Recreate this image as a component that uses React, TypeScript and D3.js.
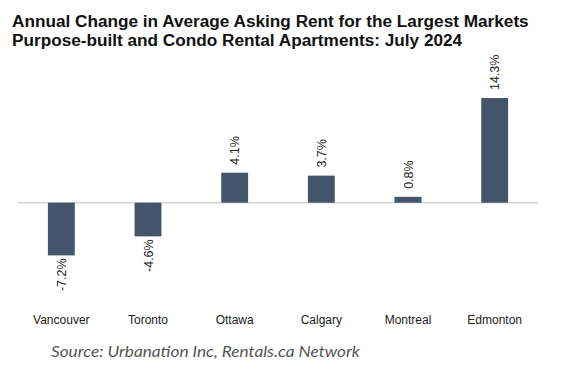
import React from "react";
import * as d3 from "d3";

const cities = ["Vancouver", "Toronto", "Ottawa", "Calgary", "Montreal", "Edmonton"];
const changes = [-7.2, -4.6, 4.1, 3.7, 0.8, 14.3];

const titleLines = [
  "Annual Change in Average Asking Rent for the Largest Markets",
  "Purpose-built and Condo Rental Apartments: July 2024",
];
const source = "Source: Urbanation Inc, Rentals.ca Network";

const width = 563;
const height = 372;

export default function App() {
  const x = d3
    .scaleBand<string>()
    .domain(cities)
    .range([18, 538])
    .paddingInner(0.69)
    .paddingOuter(0.345);

  const y = d3.scaleLinear().domain([-10, 15]).range([275.9, 92.9]);
  const y0 = y(0);

  return (
    <svg
      width={width}
      height={height}
      style={{ position: "absolute", left: 0, top: 0, background: "#fff" }}
      fontFamily="'Liberation Sans', Arial, sans-serif"
    >
      <rect width={width} height={height} fill="#fff" />
      {titleLines.map((t, i) => (
        <text
          key={i}
          x={12}
          y={26.5 + i * 19}
          fontSize={17.2}
          fontWeight="bold"
          fill="#111"
        >
          {t}
        </text>
      ))}

      {/* zero line */}
      <line x1={18} x2={538} y1={y0} y2={y0} stroke="#d4d4d4" strokeWidth={1.5} />

      {cities.map((c, i) => {
        const v = changes[i];
        const bx = x(c)!;
        const top = Math.min(y(v), y0);
        const h = Math.abs(y(v) - y0);
        const cx = bx + x.bandwidth() / 2;
        const labelY = v >= 0 ? y(v) - 8 : y(v) + 3;
        return (
          <g key={c}>
            <rect x={bx} y={top} width={x.bandwidth()} height={h} fill="#44546a" />
            <text
              transform={`translate(${cx + 4.5},${labelY}) rotate(-90)`}
              fontSize={12.5}
              fill="#222"
              textAnchor={v >= 0 ? "start" : "end"}
            >
              {v.toFixed(1) + "%"}
            </text>
            <text x={cx} y={324} fontSize={12} fill="#222" textAnchor="middle">
              {c}
            </text>
          </g>
        );
      })}

      <text
        x={51}
        y={357}
        fontSize={14.5}
        fontStyle="italic"
        fill="#555"
        fontFamily="Lato, 'Open Sans', sans-serif"
        textLength={309}
        lengthAdjust="spacingAndGlyphs"
      >
        {source}
      </text>
    </svg>
  );
}
